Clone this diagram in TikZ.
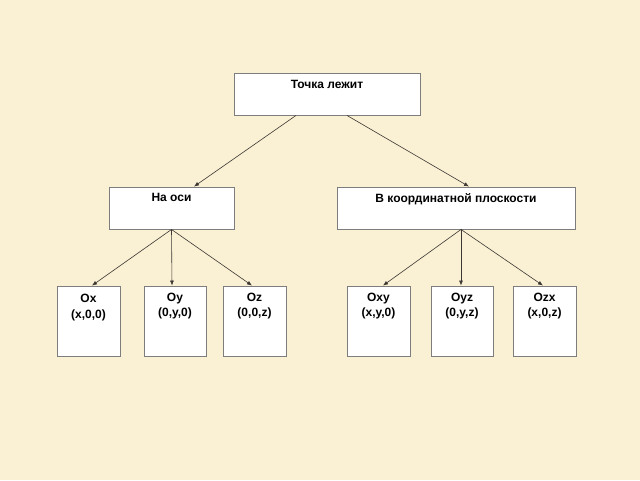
\documentclass[tikz,border=0pt]{standalone}
\usepackage{fontspec}
\setmainfont{Liberation Sans}
\usetikzlibrary{arrows.meta,positioning}
\definecolor{parchment}{RGB}{250,240,212}
\definecolor{boxline}{RGB}{125,125,125}
\definecolor{arrowline}{RGB}{60,55,50}
\newcommand{\cellbody}[4][7pt]{\parbox[c][#3][t]{#2}{\centering\vspace*{#1}#4}}
\tikzset{
    raw cell/.style={rectangle, draw=boxline, line width=0.9pt, fill=white, inner sep=0pt},
    cell/.style={raw cell, font=\bfseries\fontsize{12}{15.5}\selectfont},
    link/.style={draw=arrowline, line width=0.6pt, -{Latex[length=5pt,width=4pt]}}
}
\begin{document}
\begin{tikzpicture}[x=1pt,y=-1pt]
	\fill[parchment] (0,0) rectangle (640,480);
	\useasboundingbox (0,0) rectangle (640,480);
	% top level
	\node[cell] (point) at (327,94) {\cellbody[7.5pt]{186pt}{42pt}{Точка лежит}};
	% second level
	\node[cell] (axis) at (171.5,208) {\cellbody[6.5pt]{125pt}{42pt}{На оси}};
	\node[cell] (plane) at (456,208) {\cellbody[6.5pt]{238pt}{42pt}{В координатной плоскости}};
	% third level
	\node[cell] (ox) at (88.5,321) {\cellbody[8.5pt]{63pt}{70pt}{Ox\\(x,0,0)}};
	\node[cell] (oy) at (175,321) {\cellbody{62pt}{70pt}{Oy\\(0,y,0)}};
	\node[cell] (oz) at (254.5,321) {\cellbody{63pt}{70pt}{Oz\\(0,0,z)}};
	\node[cell] (oxy) at (378.5,321) {\cellbody{63pt}{70pt}{Oxy\\(x,y,0)}};
	\node[cell] (oyz) at (462,321) {\cellbody{62pt}{70pt}{Oyz\\(0,y,z)}};
	\node[cell] (ozx) at (544.5,321) {\cellbody{63pt}{70pt}{Ozx\\(x,0,z)}};
	% connectors
	\draw[link] ([xshift=-31pt]point.south) -- ([xshift=22.5pt]axis.north);
	\draw[link] ([xshift=20pt]point.south) -- ([xshift=13pt]plane.north);
	\draw[link] (axis.south) -- ([xshift=3.5pt]ox.north);
	\draw[link] (axis.south) -- ([xshift=-3pt]oy.north);
	\draw[link] (axis.south) -- ([xshift=-2.5pt]oz.north);
	\draw[link] ([xshift=5pt]plane.south) -- ([xshift=4.5pt]oxy.north);
	\draw[link] ([xshift=5pt]plane.south) -- ([xshift=-1pt]oyz.north);
	\draw[link] ([xshift=5pt]plane.south) -- ([xshift=-1.5pt]ozx.north);
\end{tikzpicture}
\end{document}
